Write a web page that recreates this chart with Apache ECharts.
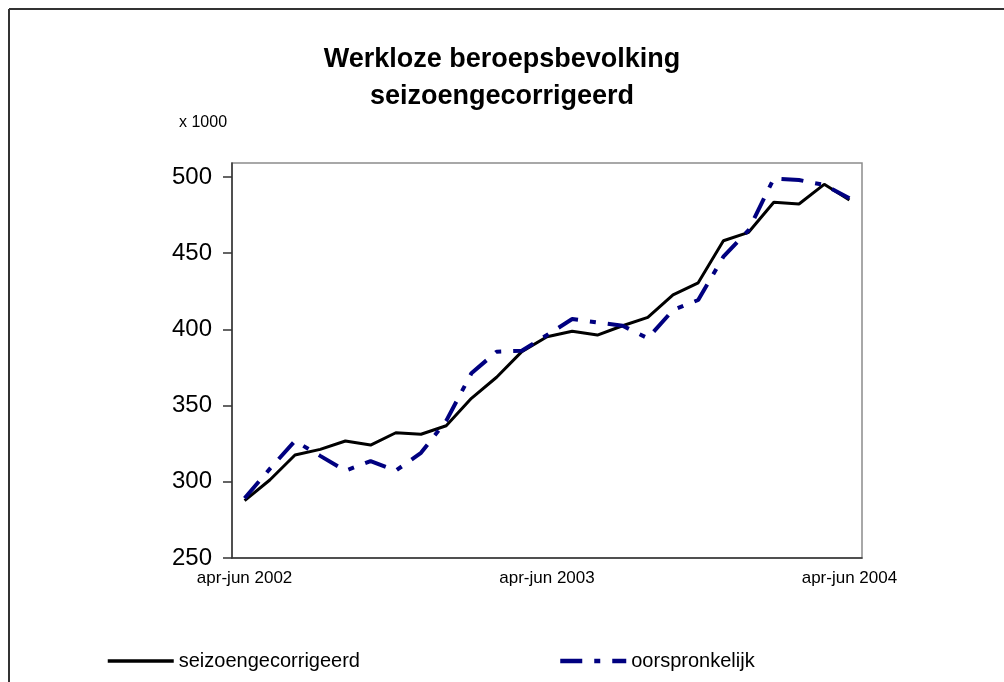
<!DOCTYPE html>
<html>
<head>
<meta charset="utf-8">
<script src="https://cdn.jsdelivr.net/npm/echarts@6/dist/echarts.min.js"></script>
<style>
  html, body { margin: 0; padding: 0; background: #fff; }
  #chart { width: 1004px; height: 682px; }
</style>
</head>
<body>
<div id="chart"></div>
<script>
// kwartalen (voortschrijdend), apr-jun 2002 t/m apr-jun 2004
var periods = [
  'apr-jun 2002', 'mei-jul 2002', 'jun-aug 2002', 'jul-sep 2002', 'aug-okt 2002',
  'sep-nov 2002', 'okt-dec 2002', 'nov-jan 2003', 'dec-feb 2003', 'jan-mrt 2003',
  'feb-apr 2003', 'mrt-mei 2003', 'apr-jun 2003', 'mei-jul 2003', 'jun-aug 2003',
  'jul-sep 2003', 'aug-okt 2003', 'sep-nov 2003', 'okt-dec 2003', 'nov-jan 2004',
  'dec-feb 2004', 'jan-mrt 2004', 'feb-apr 2004', 'mrt-mei 2004', 'apr-jun 2004'
];

// x 1000
var seizoen = [
  287.6, 301.2, 317.6, 321.3, 326.8, 324.1, 332.2, 331.2, 336.8, 354.8,
  368.6, 385.4, 395.2, 398.8, 396.3, 402.4, 407.9, 422.6, 430.6, 458.2,
  463.7, 483.4, 482.3, 495.2, 484.9
];

var oorspronkelijk = [
  289.2, 308.5, 326.8, 317.0, 307.3, 313.6, 307.3, 319.0, 340.0, 371.2,
  385.4, 386.0, 396.3, 406.8, 404.6, 402.4, 394.2, 412.7, 419.3, 447.7,
  465.2, 499.1, 498.0, 494.8, 486.0
];

var yTicks = [250, 300, 350, 400, 450, 500];

var chart = echarts.init(document.getElementById('chart'));

chart.setOption({
  animation: false,
  backgroundColor: '#fff',
  textStyle: { fontFamily: 'Liberation Sans, Arial, sans-serif' },
  // buitenkader: alleen boven- en linkerrand zichtbaar
  graphic: [{
    type: 'line',
    shape: { x1: 9, y1: 9, x2: 1004, y2: 9 },
    style: { stroke: '#333', lineWidth: 2 },
    silent: true
  }, {
    type: 'line',
    shape: { x1: 9, y1: 9, x2: 9, y2: 682 },
    style: { stroke: '#333', lineWidth: 2 },
    silent: true
  }],
  title: [{
    text: 'Werkloze beroepsbevolking\nseizoengecorrigeerd',
    left: 'center',
    top: 41,
    padding: [0, 0, 0, 10],
    textStyle: {
      fontSize: 27,
      fontWeight: 'bold',
      color: '#000',
      lineHeight: 37,
      fontFamily: 'Liberation Sans, Arial, sans-serif'
    }
  }, {
    text: 'x 1000',
    left: 179,
    top: 115,
    padding: 0,
    textStyle: {
      fontSize: 16,
      fontWeight: 'normal',
      color: '#000',
      fontFamily: 'Liberation Sans, Arial, sans-serif'
    }
  }],
  legend: [{
    data: ['seizoengecorrigeerd'],
    left: 101,
    top: 646,
    itemWidth: 66,
    itemHeight: 14,
    itemStyle: { opacity: 0 },
    lineStyle: { width: 3.5 },
    textStyle: { fontSize: 20, color: '#000' }
  }, {
    data: ['oorspronkelijk'],
    left: 553,
    top: 646,
    itemWidth: 66,
    itemHeight: 14,
    itemStyle: { opacity: 0 },
    lineStyle: { width: 4.5 },
    textStyle: { fontSize: 20, color: '#000' }
  }],
  grid: {
    left: 232,
    right: 142,
    top: 163,
    bottom: 124,
    show: true,
    borderColor: '#8c8c8c',
    borderWidth: 1.5,
    containLabel: false
  },
  xAxis: {
    type: 'category',
    data: periods,
    boundaryGap: true,
    axisLine: { lineStyle: { color: '#333', width: 1.5 } },
    axisTick: { interval: 11, length: 6, lineStyle: { color: '#333', width: 1.5 } },
    axisLabel: { interval: 11, margin: 12, fontSize: 17, color: '#000' },
    splitLine: { show: false }
  },
  yAxis: {
    type: 'value',
    min: 250,
    max: 509.2,
    interval: 50,
    axisLine: { show: true, lineStyle: { color: '#333', width: 1.5 } },
    axisTick: {
      show: true, length: 9, customValues: yTicks,
      lineStyle: { color: '#333', width: 1.5 }
    },
    axisLabel: { margin: 20, fontSize: 24, color: '#000', customValues: yTicks },
    splitLine: { show: false }
  },
  series: [{
    name: 'seizoengecorrigeerd',
    type: 'line',
    data: seizoen,
    symbol: 'none',
    showSymbol: false,
    color: '#000',
    lineStyle: { color: '#000', width: 3 },
    z: 3
  }, {
    name: 'oorspronkelijk',
    type: 'line',
    data: oorspronkelijk,
    symbol: 'none',
    showSymbol: false,
    color: '#000080',
    lineStyle: { color: '#000080', width: 4, type: [22, 12, 6, 12], cap: 'butt' },
    z: 4
  }]
});
</script>
</body>
</html>
